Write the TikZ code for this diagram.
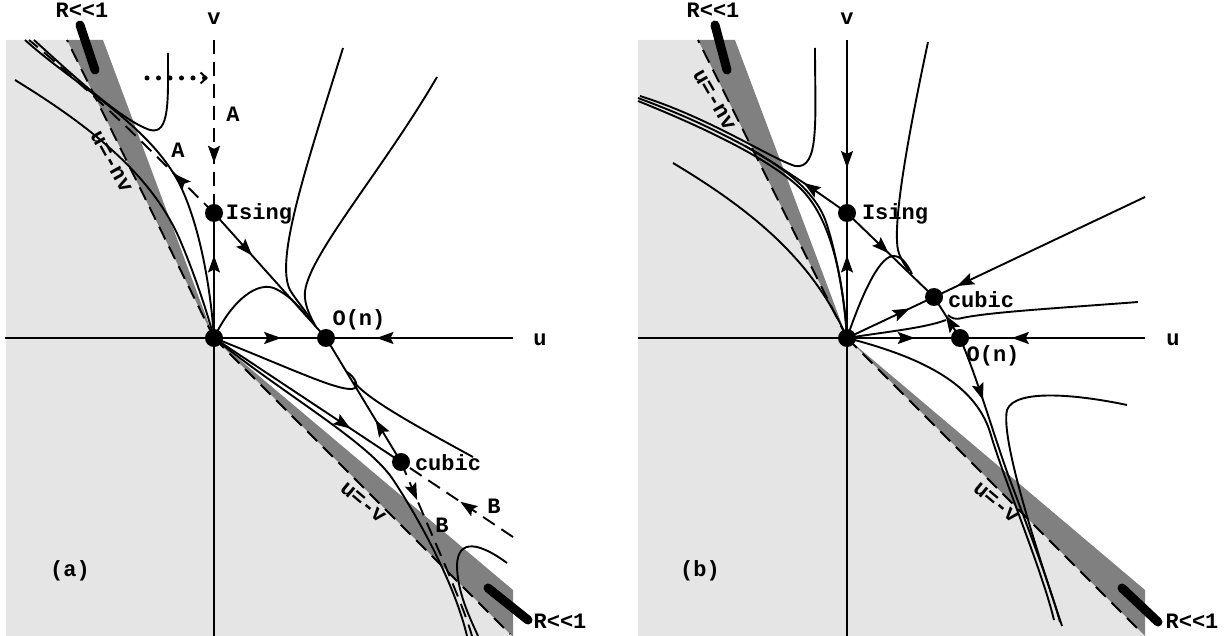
\documentclass[tikz,border=0pt]{standalone}
\usepackage{fontspec}
\newfontfamily\cour{Liberation Mono}
\usetikzlibrary{arrows.meta,decorations.markings}
\tikzset{
  fl/.style={line width=1.9pt},
  dl/.style={line width=1.9pt, dash pattern=on 14pt off 8pt},
  fp/.style={circle, fill=black, inner sep=0pt, minimum size=18pt},
  lb/.style={font=\cour\bfseries\fontsize{22}{24}\selectfont, inner sep=0pt},
  ma/.style={postaction={decorate}, decoration={markings, mark=at position #1 with {\arrow{Stealth[length=17pt,width=12pt,inset=3pt]}}}},
  lg/.style={fill=black!10},
  band/.style={fill=black!50},
  thk/.style={line width=9pt, line cap=round},
  dotline/.style={line width=5pt, line cap=round, dash pattern=on 0pt off 11.5pt}
}
\begin{document}
\begin{tikzpicture}[x=1pt,y=-1pt]
\useasboundingbox (0,0) rectangle (1226,636);
% ---------- fixed points (coordinates) ----------
\coordinate (Oa) at (214,338);
\coordinate (Ia) at (214,213);
\coordinate (Na) at (326,338);
\coordinate (Ca) at (401,462);
\coordinate (Ob) at (847,338);
\coordinate (Ib) at (847,213);
\coordinate (Nb) at (960,338);
\coordinate (Cb) at (934,297);
% ---------- backgrounds ----------
\fill[lg] (6,40) -- (67,40) -- (Oa) -- (512,636) -- (6,636) -- cycle;
\fill[band] (Oa) -- (67,40) -- (103,40) -- cycle;
\fill[band] (Oa) -- (513,590) -- (513,636) -- (512,636) -- cycle;
\fill[lg] (638,40) -- (698,40) -- (Ob) -- (1145,636) -- (638,636) -- cycle;
\fill[band] (Ob) -- (698,40) -- (735,40) -- cycle;
\fill[band] (Ob) -- (1145,590) -- (1145,636) -- cycle;
% ================= PANEL (a) =================
\coordinate (ea1) at (67,40);
\coordinate (ea2) at (510,634);
\draw[dl] (Oa) -- (ea1);
\draw[dl] (Oa) -- (ea2);
% upper-left flows
\draw[fl] (15,80) .. controls (80,120) and (150,170) .. (180,240) .. controls (195,275) and (208,315) .. (Oa);
\draw[fl] (25,40) .. controls (75,85) and (150,125) .. (180,185) .. controls (198,222) and (210,280) .. (Oa);
\draw[fl] (168,53) .. controls (168,100) and (170,135) .. (150,130) .. controls (120,120) and (65,68) .. (34,40);
\draw[dl, ma=0.22] (Ia) -- (143,143) .. controls (115,115) and (60,65) .. (29,40);
% upper-right flows
\draw[fl] (343,48) .. controls (305,170) and (275,260) .. (290,290) .. controls (296,300) and (302,306) .. (312,321);
\draw[fl] (437,77) .. controls (380,175) and (300,265) .. (305,298) .. controls (306,308) and (310,316) .. (316,327);
\draw[fl] (Oa) .. controls (232,300) and (258,280) .. (276,289) .. controls (288,295) and (296,303) .. (305,314);
% lower flows
\draw[fl] (Oa) .. controls (285,366) and (335,390) .. (352,389) .. controls (360,388) and (356,378) .. (347,372);
\draw[fl] (473,457) .. controls (420,428) and (368,400) .. (354,382);
\draw[fl] (Oa) .. controls (285,395) and (365,440) .. (392,478) .. controls (420,520) and (455,585) .. (467,636);
\draw[dl, ma=0.22] (Ca) .. controls (415,495) and (432,535) .. (445,565) .. controls (456,592) and (466,615) .. (472,636);
\draw[fl] (507,563) .. controls (480,543) and (458,538) .. (457,565) .. controls (457,592) and (470,618) .. (478,636);
\coordinate (eB) at (513,537);
\draw[dl, ma=0.47] (eB) -- (Ca);
% separatrices
\draw[fl, ma=0.73] (Oa) -- (Ca);
\draw[fl, ma=0.34] (Ca) -- (Na);
\draw[fl, ma=0.34] (Ia) -- (Na);
% axes
\coordinate (uaL) at (5,338);
\coordinate (uaR) at (513,338);
\coordinate (vaT) at (214,40);
\coordinate (vaB) at (214,636);
\draw[fl] (uaL) -- (Oa);
\draw[fl, ma=0.6] (Oa) -- (Na);
\draw[fl, ma=0.73] (uaR) -- (Na);
\draw[fl] (vaB) -- (Oa);
\draw[fl, ma=0.66] (Oa) -- (Ia);
\draw[dl, ma=0.71] (vaT) -- (Ia);
% dotted arrow
\coordinate (dA) at (147,78);
\coordinate (dB) at (208,78);
\draw[dotline, -{Straight Barb[length=6pt,width=11pt,line width=2pt]}] (dA) -- (dB);
% R<<1 markers
\coordinate (ra1) at (80,25); \coordinate (ra2) at (95,70);
\coordinate (ra3) at (488,588); \coordinate (ra4) at (528,620);
\draw[thk] (ra1) -- (ra2);
\draw[thk] (ra3) -- (ra4);
% ================= PANEL (b) =================
\coordinate (eb1) at (698,40);
\coordinate (eb2) at (1141,632);
\draw[dl] (Ob) -- (eb1);
\draw[dl] (Ob) -- (eb2);
% upper-left flows
\draw[fl] (673,163) .. controls (760,215) and (815,265) .. (Ob);
\draw[fl] (638,101) .. controls (710,130) and (770,160) .. (800,188) .. controls (825,212) and (842,260) .. (Ob);
\draw[fl] (745,146) .. controls (780,165) and (815,190) .. (826,222) .. controls (836,252) and (845,300) .. (Ob);
\draw[fl] (815,48) .. controls (815,120) and (820,170) .. (795,166) .. controls (770,158) and (710,118) .. (640,96);
\draw[fl, ma=0.22] (Ib) .. controls (815,190) and (775,163) .. (745,146) .. controls (700,122) and (670,110) .. (638,98);
% upper-right flows
\draw[fl] (928,42) .. controls (905,150) and (893,225) .. (898,250) .. controls (900,258) and (904,264) .. (909,271);
\draw[fl] (Ob) .. controls (860,300) and (878,257) .. (893,256) .. controls (901,256) and (906,262) .. (912,274);
% lower flows
\draw[fl] (Ob) .. controls (885,332) and (925,328) .. (946,320);
\draw[fl] (1138,302) .. controls (1060,308) and (990,312) .. (962,318) .. controls (955,320) and (951,318) .. (948,315);
\draw[fl] (Ob) .. controls (925,358) and (975,385) .. (990,432) .. controls (1004,480) and (1042,570) .. (1054,620);
\draw[fl, ma=0.22] (Nb) .. controls (980,385) and (995,440) .. (1010,480) .. controls (1025,520) and (1050,585) .. (1060,622);
\draw[fl] (1127,405) .. controls (1080,395) and (1015,388) .. (1007,410) .. controls (1000,440) and (1040,560) .. (1062,626);
% separatrices
\coordinate (eR) at (1145,197);
\draw[fl, ma=0.89] (eR) -- (Cb);
\draw[fl, ma=0.72] (Ob) -- (Cb);
\draw[fl, ma=0.55] (Nb) -- (Cb);
\draw[fl, ma=0.48] (Ib) -- (Cb);
% axes
\coordinate (ubL) at (638,338);
\coordinate (ubR) at (1145,338);
\coordinate (vbT) at (847,40);
\coordinate (vbB) at (847,636);
\draw[fl] (ubL) -- (Ob);
\draw[fl, ma=0.6] (Ob) -- (Nb);
\draw[fl, ma=0.72] (ubR) -- (Nb);
\draw[fl] (vbB) -- (Ob);
\draw[fl, ma=0.66] (Ob) -- (Ib);
\draw[fl, ma=0.74] (vbT) -- (Ib);
% R<<1 markers
\coordinate (rb1) at (715,25); \coordinate (rb2) at (727,70);
\coordinate (rb3) at (1122,588); \coordinate (rb4) at (1158,622);
\draw[thk] (rb1) -- (rb2);
\draw[thk] (rb3) -- (rb4);
% ---------- dots ----------
\node[fp] (dOa) at (Oa) {};
\node[fp] (dIa) at (Ia) {};
\node[fp] (dNa) at (Na) {};
\node[fp] (dCa) at (Ca) {};
\node[fp] (dOb) at (Ob) {};
\node[fp] (dIb) at (Ib) {};
\node[fp] (dNb) at (Nb) {};
\node[fp] (dCb) at (Cb) {};
% ---------- labels (a) ----------
\node[lb, anchor=base] (lRa1) at (82,18) {R<<1};
\node[lb, anchor=base] (lRa2) at (560,628) {R<<1};
\node[lb, anchor=base] (lva) at (214,25) {v};
\node[lb, anchor=base] (lua) at (540,345) {u};
\node[lb, anchor=base] (lIa) at (259,220) {Ising};
\node[lb, anchor=base] (lNa) at (359,325) {O(n)};
\node[lb, anchor=base] (lCa) at (448,470) {cubic};
\node[lb, anchor=base] (lA1) at (233,122) {A};
\node[lb, anchor=base] (lA2) at (178,158) {A};
\node[lb, anchor=base] (lB1) at (494,513) {B};
\node[lb, anchor=base] (lB2) at (442,532) {B};
\node[lb, anchor=base] (lpa) at (70,576) {(a)};
\node[lb, rotate=-61] (lnva) at (111,162) {u=-nv};
\node[lb, rotate=-40] (lva2) at (363,503) {u=-v};
% ---------- labels (b) ----------
\node[lb, anchor=base] (lRb1) at (713,18) {R<<1};
\node[lb, anchor=base] (lRb2) at (1192,628) {R<<1};
\node[lb, anchor=base] (lvb) at (847,25) {v};
\node[lb, anchor=base] (lub) at (1173,345) {u};
\node[lb, anchor=base] (lIb) at (895,220) {Ising};
\node[lb, anchor=base] (lNb) at (993,361) {O(n)};
\node[lb, anchor=base] (lCb) at (981,308) {cubic};
\node[lb, anchor=base] (lpb) at (700,576) {(b)};
\node[lb, rotate=-60] (lnvb) at (714,100) {u=-nv};
\node[lb, rotate=-40] (lvb2) at (996,503) {u=-v};
\end{tikzpicture}
\end{document}
